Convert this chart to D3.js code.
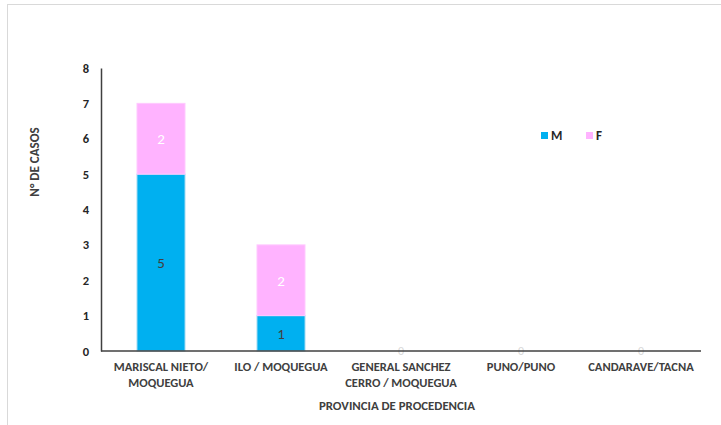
<!DOCTYPE html>
<html><head><meta charset="utf-8">
<script src="https://cdn.jsdelivr.net/npm/d3@7"></script>
<style>body{margin:0;background:#fff}svg{display:block}text{font-family:Carlito,Lato,"Liberation Sans",Arial,sans-serif}</style>
</head><body><div id="c"></div>
<script>
const categories = [["MARISCAL NIETO/","MOQUEGUA"],["ILO / MOQUEGUA"],["GENERAL SANCHEZ","CERRO / MOQUEGUA"],["PUNO/PUNO"],["CANDARAVE/TACNA"]];
const seriesM = [5,1,0,0,0];
const seriesF = [2,2,0,0,0];
const seriesNames = ["M","F"];
const yTicks = [0,1,2,3,4,5,6,7,8];
const colors = {M:"#00B0F0", F:"#FFB3FF"};

const W=721,H=425;
const svg=d3.select("#c").append("svg").attr("width",W).attr("height",H);
svg.append("line").attr("x1",7).attr("x2",W).attr("y1",4.5).attr("y2",4.5).attr("stroke","#d9d9d9");
svg.append("line").attr("x1",7.5).attr("x2",7.5).attr("y1",4).attr("y2",H).attr("stroke","#d9d9d9");

const x0=101,x1=701,yTop=68,yBot=351;
const x=d3.scaleBand().domain(d3.range(categories.length)).range([x0,x1]).paddingInner(0.6).paddingOuter(0.3);
const y=d3.scaleLinear().domain([0,8]).range([yBot,yTop]);

const data=categories.map((c,i)=>({i,M:seriesM[i],F:seriesF[i]}));
const stack=d3.stack().keys(seriesNames)(data);

const g=svg.append("g");
stack.forEach(layer=>{
  g.selectAll(null).data(layer).enter().append("rect")
   .attr("x",d=>x(d.data.i)).attr("width",x.bandwidth())
   .attr("y",d=>y(d[1])).attr("height",d=>y(d[0])-y(d[1]))
   .attr("fill",colors[layer.key]).attr("stroke",layer.key==="M"?"#9fd9f2":"#ffc9ff").attr("stroke-width",1);
});
stack.forEach(layer=>{
  g.selectAll(null).data(layer.filter(d=>d[1]-d[0]>0)).enter().append("text")
   .attr("x",d=>x(d.data.i)+x.bandwidth()/2).attr("y",d=>(y(d[0])+y(d[1]))/2+5.5)
   .attr("text-anchor","middle").attr("font-size",15)
   .attr("fill",layer.key==="M"?"#404040":"#ffffff").text(d=>d[1]-d[0]);
});
g.selectAll(null).data(data.filter(d=>d.M+d.F===0)).enter().append("text")
 .attr("x",d=>x(d.i)+x.bandwidth()/2).attr("y",yBot+4).attr("text-anchor","middle")
 .attr("font-size",12).attr("fill","#d9d9d9").text("0");

const yAxis=d3.axisLeft(y).tickValues(yTicks).tickSize(0).tickPadding(12);
const ya=svg.append("g").attr("transform",`translate(${x0},0)`).call(yAxis);
ya.select(".domain").attr("stroke","#404040").attr("stroke-width",1.5);
ya.selectAll("text").attr("font-size",12.5).attr("font-weight","bold").attr("fill","#262626");

const xAxis=d3.axisBottom(x).tickSize(0).tickFormat("");
const xa=svg.append("g").attr("transform",`translate(0,${yBot})`).call(xAxis);
xa.select(".domain").attr("d",`M${x0},0H${x1}`).attr("stroke","#404040").attr("stroke-width",1.5);
categories.forEach((lines,i)=>{
  const t=svg.append("text").attr("x",x(i)+x.bandwidth()/2).attr("y",371)
    .attr("text-anchor","middle").attr("font-size",12.5).attr("font-weight","bold").attr("fill","#404040");
  lines.forEach((l,k)=>t.append("tspan").attr("x",x(i)+x.bandwidth()/2).attr("dy",k?16:0).text(l));
});
svg.append("text").attr("x",397).attr("y",410).attr("text-anchor","middle").attr("font-size",12.8)
  .attr("font-weight","bold").attr("fill","#404040").text("PROVINCIA DE PROCEDENCIA");
svg.append("text").attr("transform","translate(39,162) rotate(-90)").attr("text-anchor","middle")
  .attr("font-size",13).attr("font-weight","bold").attr("fill","#404040").text("N° DE CASOS");

const leg=[{k:"M",x:541},{k:"F",x:586}];
leg.forEach(l=>{
  svg.append("rect").attr("x",l.x).attr("y",132).attr("width",7).attr("height",7).attr("fill",colors[l.k]);
  svg.append("text").attr("x",l.x+10).attr("y",140).attr("font-size",13).attr("font-weight","bold").attr("fill","#262626").text(l.k);
});
</script></body></html>
